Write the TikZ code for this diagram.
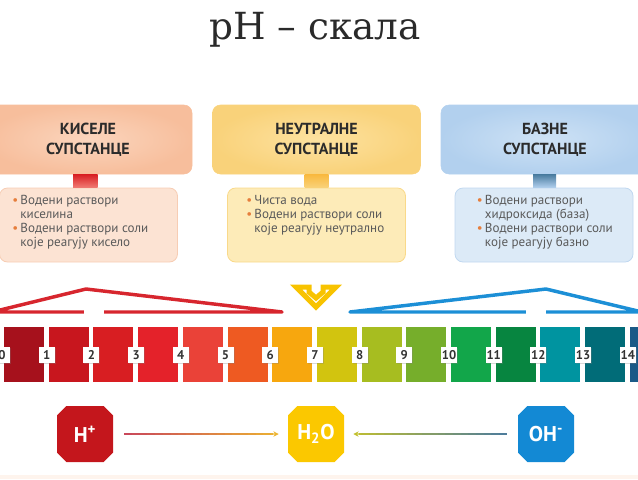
\documentclass[tikz,border=0pt]{standalone}
\usepackage{fontspec}
\setmainfont{PT Sans}
\newfontfamily\titlefont{DejaVu Serif}
\usetikzlibrary{calc,shapes.misc,shadows,arrows.meta}

\definecolor{titletext}{HTML}{2A2A2A}
\definecolor{headtext}{HTML}{2B2B2B}
\definecolor{bodytext}{HTML}{5A5A5A}
\definecolor{bul}{HTML}{E67E3C}
\definecolor{numtext}{HTML}{333333}
\definecolor{acidout}{HTML}{F7BE9C}
\definecolor{acidin}{HTML}{FBD5BD}
\definecolor{acidbg}{HTML}{FCE3D3}
\definecolor{acidline}{HTML}{F7CDB4}
\definecolor{neutout}{HTML}{F9D27A}
\definecolor{neutin}{HTML}{FDE2A0}
\definecolor{neutbg}{HTML}{FDEBB8}
\definecolor{neutline}{HTML}{F9D98A}
\definecolor{baseout}{HTML}{B2D0EE}
\definecolor{basein}{HTML}{CEE2F5}
\definecolor{basebg}{HTML}{DCEAF7}
\definecolor{baseline}{HTML}{C0D8F0}
\definecolor{redbr}{HTML}{D7262E}
\definecolor{bluebr}{HTML}{1C8FD6}
\definecolor{vee}{HTML}{F8C300}
\definecolor{hred}{HTML}{C4161C}
\definecolor{hyel}{HTML}{FBC800}
\definecolor{ohblue}{HTML}{1389D4}
\definecolor{arrred}{HTML}{C9485A}
\definecolor{arryel}{HTML}{EDB531}
\definecolor{arrgrn}{HTML}{C2C02E}
\definecolor{arrblu}{HTML}{4F7D9A}
\definecolor{ph0}{HTML}{A6111C}
\definecolor{ph1}{HTML}{C8161E}
\definecolor{ph2}{HTML}{D81E22}
\definecolor{ph3}{HTML}{E4222A}
\definecolor{ph4}{HTML}{EA4238}
\definecolor{ph5}{HTML}{EE5A22}
\definecolor{ph6}{HTML}{F7A70E}
\definecolor{ph7}{HTML}{D2C40F}
\definecolor{ph8}{HTML}{A7BD20}
\definecolor{ph9}{HTML}{76AE2B}
\definecolor{ph10}{HTML}{12A64A}
\definecolor{ph11}{HTML}{078540}
\definecolor{ph12}{HTML}{0094A0}
\definecolor{ph13}{HTML}{016C78}
\definecolor{ph14}{HTML}{1B5A87}

\begin{document}
\begin{tikzpicture}[x=0.75pt, y=-0.75pt,
  head/.style={rounded corners=6pt, draw, line width=0.4pt, minimum width=156pt, minimum height=51.75pt, align=center, font=\bfseries\fontsize{12}{15}\selectfont, text=headtext},
  body/.style={rounded corners=6pt, draw, line width=0.6pt, minimum width=133.5pt, minimum height=55.5pt},
  blurb/.style={anchor=north west, inner sep=0pt, font=\fontsize{9.8}{10.5}\selectfont, text=bodytext},
  num/.style={fill=white, minimum size=12pt, inner sep=0pt, font=\bfseries\fontsize{9.5}{10}\selectfont, text=numtext, drop shadow={shadow xshift=0.8pt, shadow yshift=-0.8pt, opacity=0.3}},
  ion/.style={chamfered rectangle, chamfered rectangle xsep=3.5pt, chamfered rectangle ysep=3.5pt, minimum width=42pt, minimum height=42pt, inner sep=0pt, text=white, font=\bfseries\fontsize{16}{18}\selectfont},
  ionline/.style={line width=1.1pt}]
\useasboundingbox (0,0) rectangle (638,479);
\fill[acidbg!40] (0,475) rectangle (638,479);

% title
\node[font=\titlefont\fontsize{28}{32}\selectfont, text=titletext, anchor=base] (title) at (315,39) {pH – скала};

% three groups
\node[head, inner color=acidin, outer color=acidout, draw=acidout] (acidhead) at (88,139.5) {КИСЕЛЕ\\СУПСТАНЦЕ};
\node[head, inner color=neutin, outer color=neutout, draw=neutout] (neuthead) at (316.5,139.5) {НЕУТРАЛНЕ\\СУПСТАНЦЕ};
\node[head, inner color=basein, outer color=baseout, draw=baseout] (basehead) at (545,139.5) {БАЗНЕ\\СУПСТАНЦЕ};

\node[body, fill=acidbg, draw=acidline] (acidbody) at (88.5,225) {};
\node[body, fill=neutbg, draw=neutline] (neutbody) at (316.5,225) {};
\node[body, fill=basebg, draw=baseline] (basebody) at (544,225) {};

\shade[top color=ph2, bottom color=ph4!70] ($(acidhead.south)+(-15,0)$) rectangle ($(acidbody.north)+(9,0)$);
\shade[top color=ph6!80, bottom color=neutout] ($(neuthead.south)+(-12,0)$) rectangle ($(neutbody.north)+(12,0)$);
\shade[top color=ph14!80, bottom color=baseout] ($(basehead.south)+(-12,0)$) rectangle ($(basebody.north)+(12,0)$);

\node[blurb] (acidtext) at ($(acidbody.north west)+(13,7)$) {\begin{tabular}{@{}l@{\,}l@{}}
\textcolor{bul}{\textbullet} & Водени раствори\\
 & киселина\\
\textcolor{bul}{\textbullet} & Водени раствори соли\\
 & које реагују кисело
\end{tabular}};
\node[blurb] (neuttext) at ($(neutbody.north west)+(19,7)$) {\begin{tabular}{@{}l@{\,}l@{}}
\textcolor{bul}{\textbullet} & Чиста вода\\
\textcolor{bul}{\textbullet} & Водени раствори соли\\
 & које реагују неутрално
\end{tabular}};
\node[blurb] (basetext) at ($(basebody.north west)+(22,7)$) {\begin{tabular}{@{}l@{\,}l@{}}
\textcolor{bul}{\textbullet} & Водени раствори\\
 & хидроксида (база)\\
\textcolor{bul}{\textbullet} & Водени раствори соли\\
 & које реагују базно
\end{tabular}};

% brackets
\draw[redbr, line width=2.6pt, line join=round] (-8,312) -- (86,289) -- (282,312) -- cycle;
\fill[white] (84,308) rectangle (104,316);
\draw[bluebr, line width=2.6pt, line join=round] (350,312) -- (546,289) -- (642,312) -- cycle;
\fill[white] (526,308) rectangle (546,316);
\draw[vee, line width=3.75pt, line join=miter] (296,287) -- (309,287) -- (309,292) -- (316,298) -- (323,292) -- (323,287) -- (336,287) -- (316,307) -- cycle;

% scale
\foreach \c [count=\k from 0] in {ph0,ph1,ph2,ph3,ph4,ph5,ph6,ph7,ph8,ph9,ph10,ph11,ph12,ph13,ph14}{
  \fill[\c] ({2+44.7*\k+2},327) rectangle ({2+44.7*\k+42},382);
  \node[num] (num\k) at ({2+44.7*\k},355) {\k};
}

% ions
\node[ion, fill=hred] (hplus) at (85,434) {H\textsuperscript{+}};
\node[ion, fill=hyel] (water) at (316,434) {H\textsubscript{2}O};
\node[ion, fill=ohblue] (hydroxide) at (546,434) {OH\textsuperscript{-}};

\coordinate (h1) at ($(hplus.east)+(11,0)$);
\coordinate (h2) at ($(water.west)+(-9,0)$);
\coordinate (o1) at ($(hydroxide.west)+(-11,0)$);
\coordinate (o2) at ($(water.east)+(9,0)$);
\foreach \i in {0,...,18}{
  \pgfmathtruncatemacro\p{100-5*\i}
  \draw[ionline, arrred!\p!arryel] ($(h1)!\i/20!(h2)$) -- ($(h1)!{(\i+1.2)/20}!(h2)$);
  \draw[ionline, arrblu!\p!arrgrn] ($(o1)!\i/20!(o2)$) -- ($(o1)!{(\i+1.2)/20}!(o2)$);
}
\draw[ionline, arryel, -{Stealth[length=4pt,width=4pt]}] ($(h1)!0.95!(h2)$) -- (h2);
\draw[ionline, arrgrn, -{Stealth[length=4pt,width=4pt]}] ($(o1)!0.95!(o2)$) -- (o2);
\end{tikzpicture}
\end{document}
